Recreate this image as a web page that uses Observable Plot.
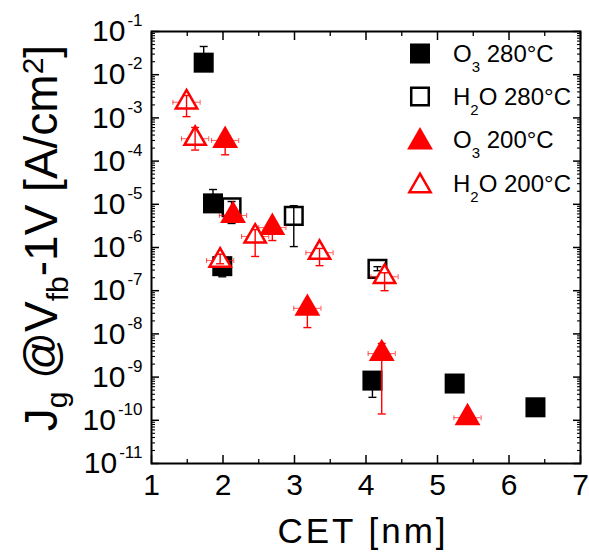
<!DOCTYPE html>
<html><head><meta charset="utf-8">
<script src="https://cdn.jsdelivr.net/npm/d3@7"></script>
<script src="https://cdn.jsdelivr.net/npm/@observablehq/plot@0.6"></script>
<style>
body{margin:0;background:#fff;}
#chart{width:589px;height:552px;}
</style></head><body><div id="chart"></div>
<script>
// ---------- data ----------
// O3 280°C : filled black squares
const o3_280_cet = [1.73, 1.86, 1.99, 4.09, 5.24, 6.37];
const o3_280_j   = [1.9e-2, 1.05e-5, 3.7e-7, 8.3e-10, 7.1e-10, 2.0e-10];
const o3_280_lo  = [1.9e-2, 1.05e-5, 2.1e-7, 3.4e-10, 7.1e-10, 2.0e-10];
const o3_280_hi  = [4.5e-2, 2.2e-5, 3.7e-7, 8.3e-10, 7.1e-10, 2.0e-10];
// H2O 280°C : open black squares
const h2o_280_cet = [2.12, 2.99, 4.16];
const h2o_280_j   = [8.5e-6, 5.4e-6, 3.2e-7];
const h2o_280_lo  = [3.6e-6, 1.05e-6, 2.9e-7];
const h2o_280_hi  = [1.16e-5, 9.3e-6, 3.6e-7];
// O3 200°C : filled red triangles
const o3_200_cet  = [2.03, 2.14, 2.69, 3.18, 4.22, 5.42];
const o3_200_j    = [3.0e-4, 5.5e-6, 2.9e-6, 3.9e-8, 3.5e-9, 1.15e-10];
const o3_200_lo   = [1.4e-4, 5.0e-6, 1.45e-6, 1.4e-8, 1.4e-10, 1.0e-10];
const o3_200_hi   = [3.0e-4, 5.5e-6, 2.9e-6, 3.9e-8, 6.0e-9, 1.15e-10];
const o3_200_xerr = [0.19, 0.19, 0.19, 0.19, 0.19, 0.19];
// H2O 200°C : open red triangles
const h2o_200_cet  = [1.49, 1.61, 1.96, 2.45, 3.35, 4.26];
const h2o_200_j    = [2.3e-3, 3.3e-4, 5.0e-7, 1.8e-6, 7.6e-7, 2.1e-7];
const h2o_200_lo   = [1.07e-3, 1.8e-4, 4.2e-7, 6.2e-7, 3.8e-7, 1.0e-7];
const h2o_200_hi   = [3.3e-3, 6.0e-4, 7.0e-7, 2.6e-6, 9.5e-7, 2.6e-7];
const h2o_200_xerr = [0.19, 0.19, 0.19, 0.19, 0.19, 0.19];

// ticks and labels
const xMajor = [1, 2, 3, 4, 5, 6, 7];
const xMinor = [1.5, 2.5, 3.5, 4.5, 5.5, 6.5];
const yExp = [-11, -10, -9, -8, -7, -6, -5, -4, -3, -2, -1];
const xTitle = "CET [nm]";
const legendItems = [
  {main: "O", sub: "3", rest: " 280°C", symbol: "square", fill: "black", stroke: "none"},
  {main: "H", sub: "2", rest: "O 280°C", symbol: "square", fill: "white", stroke: "black"},
  {main: "O", sub: "3", rest: " 200°C", symbol: "triangle", fill: "#ff0000", stroke: "none"},
  {main: "H", sub: "2", rest: "O 200°C", symbol: "triangle", fill: "white", stroke: "#ff0000"}
];

// ---------- build ----------
const FONT = '"Liberation Sans", Arial, Helvetica, sans-serif';
const RED = "#ff0000";
function rows(cet, j, lo, hi, xerr) {
  return cet.map((c, i) => ({cet: c, j: j[i], lo: lo[i], hi: hi[i], xerr: xerr ? xerr[i] : 0}));
}
const s1 = rows(o3_280_cet, o3_280_j, o3_280_lo, o3_280_hi);
const s2 = rows(h2o_280_cet, h2o_280_j, h2o_280_lo, h2o_280_hi);
const s3 = rows(o3_200_cet, o3_200_j, o3_200_lo, o3_200_hi, o3_200_xerr);
const s4 = rows(h2o_200_cet, h2o_200_j, h2o_200_lo, h2o_200_hi, h2o_200_xerr);

const yMajor = yExp.map(e => Math.pow(10, e));
const yMinor = yExp.slice(0, -1).flatMap(e => d3.range(2, 10).map(m => m * Math.pow(10, e)));

const capH = {draw(ctx, size) { const w = Math.sqrt(size / Math.PI); ctx.moveTo(-w, 0); ctx.lineTo(w, 0); }};
const capV = {draw(ctx, size) { const w = Math.sqrt(size / Math.PI); ctx.moveTo(0, -w); ctx.lineTo(0, w); }};

function yErr(data, color) {
  return [
    Plot.ruleX(data.filter(d => d.hi > d.lo), {x: "cet", y1: "lo", y2: "hi", stroke: color, strokeWidth: 1.4}),
    Plot.dot(data.filter(d => d.lo < d.j), {x: "cet", y: "lo", symbol: capH, r: 4, stroke: color, strokeWidth: 1.4, fill: "none"}),
    Plot.dot(data.filter(d => d.hi > d.j), {x: "cet", y: "hi", symbol: capH, r: 4, stroke: color, strokeWidth: 1.4, fill: "none"})
  ];
}
function xErr(data, color) {
  return [
    Plot.ruleY(data, {y: "j", x1: d => d.cet - d.xerr, x2: d => d.cet + d.xerr, stroke: color, strokeWidth: 1.1, strokeOpacity: 0.6}),
    Plot.dot(data, {x: d => d.cet - d.xerr, y: "j", symbol: capV, r: 2.5, stroke: color, strokeWidth: 1.1, strokeOpacity: 0.6, fill: "none"}),
    Plot.dot(data, {x: d => d.cet + d.xerr, y: "j", symbol: capV, r: 2.5, stroke: color, strokeWidth: 1.1, strokeOpacity: 0.6, fill: "none"})
  ];
}
const noText = () => "";

const chart = Plot.plot({
  width: 589, height: 552,
  marginLeft: 151, marginRight: 9, marginTop: 31, marginBottom: 89,
  style: {fontFamily: FONT, background: "white", color: "black", overflow: "visible"},
  x: {domain: [1, 7]},
  y: {type: "log", domain: [1e-11, 1e-1]},
  marks: [
    // inward ticks on all four sides
    Plot.axisX({ticks: xMajor, tickSize: -8, tickFormat: noText, label: null, strokeWidth: 1.5}),
    Plot.axisX({ticks: xMinor, tickSize: -4, tickFormat: noText, label: null, strokeWidth: 1.3}),
    Plot.axisX({anchor: "top", ticks: xMajor, tickSize: -8, tickFormat: noText, label: null, strokeWidth: 1.5}),
    Plot.axisX({anchor: "top", ticks: xMinor, tickSize: -4, tickFormat: noText, label: null, strokeWidth: 1.3}),
    Plot.axisY({ticks: yMajor, tickSize: -8, tickFormat: noText, label: null, strokeWidth: 1.5}),
    Plot.axisY({ticks: yMinor, tickSize: -4, tickFormat: noText, label: null, strokeWidth: 1.1}),
    Plot.axisY({anchor: "right", ticks: yMajor, tickSize: -8, tickFormat: noText, label: null, strokeWidth: 1.5}),
    Plot.axisY({anchor: "right", ticks: yMinor, tickSize: -4, tickFormat: noText, label: null, strokeWidth: 1.1}),
    // tick labels
    Plot.axisX({ticks: xMajor, tickSize: 0, tickPadding: 10, tickFormat: d => String(d), label: null, fontSize: 30}),
    Plot.axisY({ticks: yMajor, tickSize: 0, tickPadding: 9, tickFormat: d => "10^" + Math.round(Math.log10(d)), label: null, fontSize: 30}),
    Plot.frame({stroke: "black", strokeWidth: 2}),
    // O3 280
    ...yErr(s1, "black"),
    Plot.dot(s1, {x: "cet", y: "j", symbol: "square", r: 11.3, fill: "black"}),
    // H2O 280
    Plot.dot(s2, {x: "cet", y: "j", symbol: "square", r: 9.9, fill: "white", stroke: "black", strokeWidth: 2.5}),
    ...yErr(s2, "black"),
    // O3 200
    ...xErr(s3, RED),
    ...yErr(s3, RED),
    Plot.dot(s3, {x: "cet", y: "j", symbol: "triangle", r: 9.6, fill: RED}),
    // H2O 200
    ...xErr(s4, RED),
    Plot.dot(s4, {x: "cet", y: "j", symbol: "triangle", r: 7.9, fill: "white", stroke: RED, strokeWidth: 2.5}),
    ...yErr(s4, RED)
  ]
});
document.getElementById("chart").appendChild(chart);

const svg = d3.select(chart);
// superscript exponents on y tick labels
svg.selectAll('g[aria-label="y-axis tick label"] text').each(function() {
  const t = this.textContent;
  if (!t.startsWith("10^")) return;
  const exp = t.slice(3);
  const el = d3.select(this);
  el.text(null);
  el.append("tspan").text("10");
  el.append("tspan").attr("dx", 2).attr("dy", -15).attr("font-size", 17).text(exp);
});

// x title
svg.append("text").attr("x", 363).attr("y", 543).attr("text-anchor", "middle")
  .attr("font-size", 35).attr("letter-spacing", 3).attr("font-family", FONT).attr("fill", "black").text(xTitle);

// y title
const yt = svg.append("text").attr("transform", "translate(57,238) rotate(-90)")
  .attr("text-anchor", "middle").attr("font-size", 46).attr("font-family", FONT).attr("fill", "black");
yt.append("tspan").text("J");
yt.append("tspan").attr("font-size", 30).attr("dy", 10).text("g");
yt.append("tspan").attr("dy", -10).text(" @V");
yt.append("tspan").attr("font-size", 30).attr("dy", 11).text("fb");
yt.append("tspan").attr("dy", -11).text("-1V [A/cm");
yt.append("tspan").attr("font-size", 30).attr("dy", -14).text("2");
yt.append("tspan").attr("dy", 14).text("]");

// legend
const lg = svg.append("g").attr("font-family", FONT).attr("font-size", 24).attr("text-anchor", "start");
const baselines = [62, 105, 148, 192];
legendItems.forEach((it, i) => {
  const b = baselines[i];
  const isSq = it.symbol === "square";
  const open = it.fill === "white";
  const size = isSq ? (open ? Math.PI * 9.9 * 9.9 : Math.PI * 11.3 * 11.3) : (open ? Math.PI * 7.9 * 7.9 : Math.PI * 9.6 * 9.6);
  lg.append("path")
    .attr("d", d3.symbol().type(isSq ? d3.symbolSquare : d3.symbolTriangle).size(size)())
    .attr("transform", `translate(420,${isSq ? b - 8.5 : b - 6})`)
    .attr("fill", it.fill).attr("stroke", it.stroke).attr("stroke-width", open ? 2.5 : 0);
  const t = lg.append("text").attr("x", 453).attr("y", b).attr("fill", "black").attr("text-anchor", "start");
  t.append("tspan").text(it.main);
  t.append("tspan").attr("font-size", 15).attr("dy", 10).text(it.sub);
  t.append("tspan").attr("dy", -10).text(it.rest);
});
</script>
</body></html>
